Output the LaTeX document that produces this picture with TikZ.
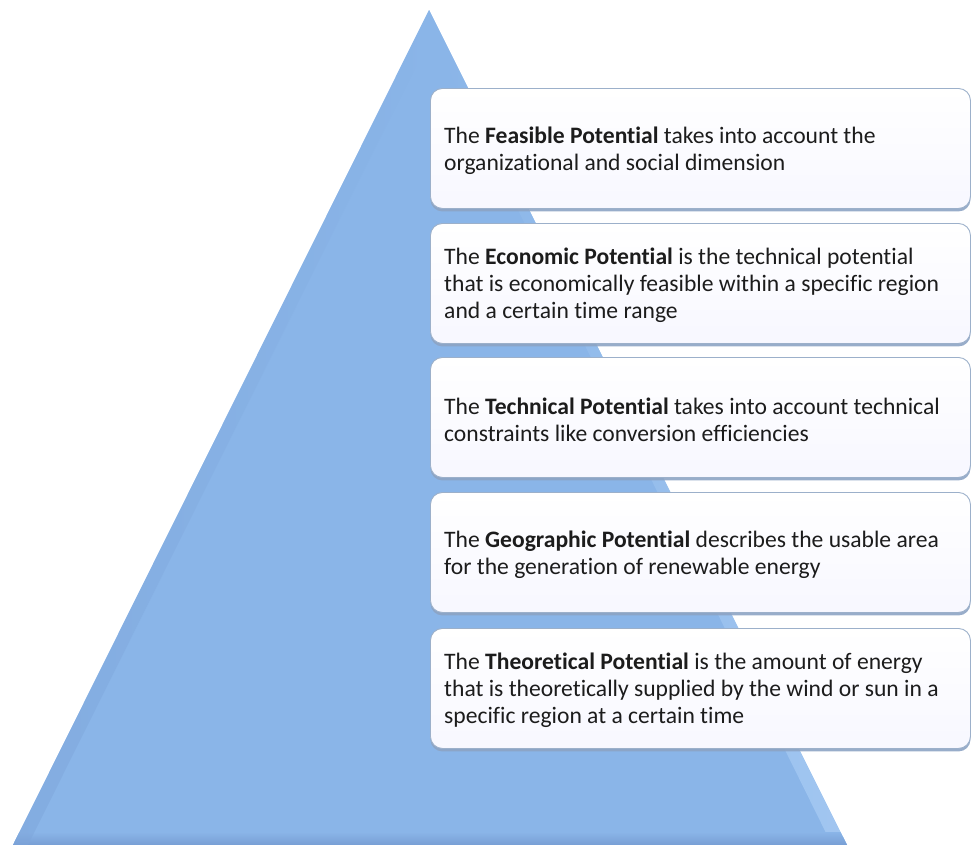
\documentclass[tikz,border=0pt]{standalone}
\usepackage{fontspec}
\setmainfont{Carlito}[Ligatures=NoCommon]
\usetikzlibrary{shadows}
\definecolor{tribase}{HTML}{8AB5E8}
\definecolor{trilight}{HTML}{A8CBF3}
\definecolor{tridark}{HTML}{789ED4}
\definecolor{boxline}{HTML}{9CB0CA}
\definecolor{boxshadow}{HTML}{8DA4C4}
\definecolor{txtcol}{HTML}{1C1C1C}
\begin{document}
\begin{tikzpicture}[x=1bp,y=-1bp,
  pbox/.style={draw=boxline, line width=0.9bp, rounded corners=12bp,
    top color=white, bottom color=blue!3!white,
    minimum width=540bp, minimum height=120bp, anchor=north west, inner sep=0pt,
    drop shadow={shadow xshift=0bp, shadow yshift=-3bp, fill=boxshadow, opacity=0.9}},
  ptxt/.style={anchor=west, align=left, inner sep=0pt, text=txtcol,
    font=\fontsize{23.6bp}{26.8bp}\selectfont}]
\useasboundingbox (0,0) rectangle (971,845);
% pyramid
\coordinate (apex) at (429,10);
\coordinate (bl) at (13,845);
\coordinate (br) at (847,845);
\fill[tribase] (bl) -- (apex) -- (br) -- cycle;
\begin{scope}
  \clip (bl) -- (apex) -- (br) -- cycle;
  \shade[left color=tribase, right color=trilight, opacity=0.8]
    (apex) -- (847,845) -- (832,845) -- (429,30) -- cycle;
  \shade[top color=tribase, bottom color=tridark] (0,832) rectangle (971,845);
  \shade[left color=tridark!70!tribase, right color=tribase, opacity=0.5]
    (apex) -- (13,845) -- (28,845) -- (429,40) -- cycle;
\end{scope}
% boxes
\node[pbox] (b1) at (430,88) {};
\node[pbox] (b2) at (430,223) {};
\node[pbox] (b3) at (430,357) {};
\node[pbox] (b4) at (430,492) {};
\node[pbox] (b5) at (430,628) {};
% texts
\node[ptxt] (t1) at ([xshift=14bp,yshift=-2bp]b1.west)
  {The \textbf{Feasible Potential} takes into account the\\organizational and social dimension};
\node[ptxt] (t2) at ([xshift=14bp,yshift=-2bp]b2.west)
  {The \textbf{Economic Potential} is the technical potential\\that is economically feasible within a specific region\\and a certain time range};
\node[ptxt] (t3) at ([xshift=14bp,yshift=-2bp]b3.west)
  {The \textbf{Technical Potential} takes into account technical\\constraints like conversion efficiencies};
\node[ptxt] (t4) at ([xshift=14bp,yshift=-2bp]b4.west)
  {The \textbf{Geographic Potential} describes the usable area\\for the generation of renewable energy};
\node[ptxt] (t5) at ([xshift=14bp,yshift=-2bp]b5.west)
  {The \textbf{Theoretical Potential} is the amount of energy\\that is theoretically supplied by the wind or sun in a\\specific region at a certain time};
\end{tikzpicture}
\end{document}
